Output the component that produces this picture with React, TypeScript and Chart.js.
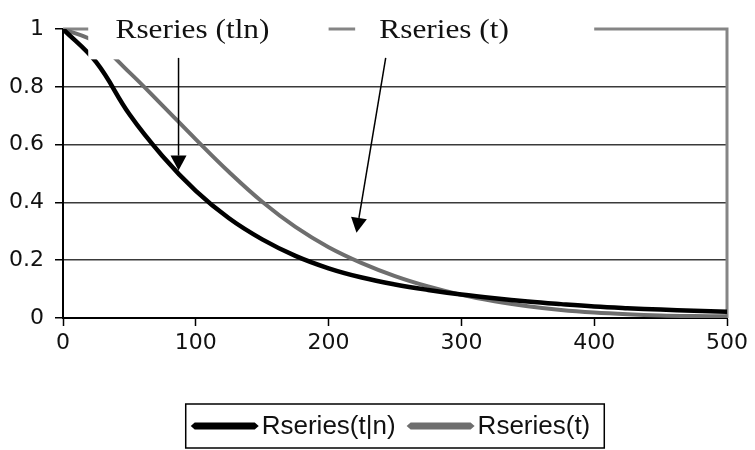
import React, { useEffect, useRef } from "react";
import { Chart, registerables } from "chart.js";

Chart.register(...registerables);

// ---- data ----
const xValues = [0, 25, 50, 75, 100, 125, 150, 175, 200, 225, 250, 275, 300, 325, 350, 375, 400, 425, 450, 475, 500];
const seriesTN = [1, 0.885, 0.705, 0.56, 0.44, 0.345, 0.272, 0.215, 0.172, 0.14, 0.116, 0.097, 0.081, 0.068, 0.057, 0.048, 0.04, 0.034, 0.029, 0.025, 0.022];
const seriesT = [1, 0.953, 0.85, 0.735, 0.618, 0.505, 0.402, 0.315, 0.245, 0.19, 0.145, 0.109, 0.08, 0.058, 0.041, 0.028, 0.019, 0.013, 0.009, 0.007, 0.006];
const seriesLabels = ["Rseries(t|n)", "Rseries(t)"];
const seriesColors = ["#000000", "#6e6e6e"];
const xTicks = [0, 100, 200, 300, 400, 500];
const yTickLabels = ["0", "0.2", "0.4", "0.6", "0.8", "1"];

// ---- annotations (data units) ----
const noteTexts = ["Rseries (tln)", "Rseries (t)"];
const noteCenterX = [97.5, 287];
const noteBaselineY = 0.969;
const noteBoxX = [[19, 200], [220, 400]];
const noteBoxBottomY = 0.895;
const arrowFrom = [[87, 0.9], [243, 0.9]];
const arrowTo = [[87, 0.51], [221, 0.295]];

const annotPlugin = {
  id: "annot",
  beforeDatasetsDraw(chart: any) {
    const { ctx, chartArea } = chart;
    ctx.save();
    ctx.strokeStyle = "#858585";
    ctx.lineWidth = 3;
    ctx.beginPath();
    ctx.moveTo(chartArea.left, chartArea.top);
    ctx.lineTo(chartArea.right, chartArea.top);
    ctx.lineTo(chartArea.right, chartArea.bottom);
    ctx.stroke();
    ctx.restore();
  },
  afterDatasetsDraw(chart: any) {
    const { ctx } = chart;
    const xs = chart.scales.x;
    const ys = chart.scales.y;
    ctx.save();
    ctx.fillStyle = "#ffffff";
    noteBoxX.forEach(([a, b]) => {
      const x0 = xs.getPixelForValue(a);
      const x1 = xs.getPixelForValue(b);
      const yb = ys.getPixelForValue(noteBoxBottomY);
      ctx.fillRect(x0, 0, x1 - x0, yb);
    });
    ctx.fillStyle = "#111";
    ctx.font = "27px 'Liberation Serif', 'Times New Roman', serif";
    ctx.textAlign = "center";
    ctx.textBaseline = "alphabetic";
    noteTexts.forEach((t, i) => {
      ctx.save();
      ctx.translate(xs.getPixelForValue(noteCenterX[i]), ys.getPixelForValue(noteBaselineY));
      ctx.scale(1.16, 1);
      ctx.fillText(t, 0, 0);
      ctx.restore();
    });
    ctx.strokeStyle = "#000";
    ctx.fillStyle = "#000";
    ctx.lineWidth = 1.5;
    arrowFrom.forEach((f, i) => {
      const x0 = xs.getPixelForValue(f[0]);
      const y0 = ys.getPixelForValue(f[1]);
      const x1 = xs.getPixelForValue(arrowTo[i][0]);
      const y1 = ys.getPixelForValue(arrowTo[i][1]);
      const ang = Math.atan2(y1 - y0, x1 - x0);
      const len = 15;
      const half = 8;
      const bx = x1 - len * Math.cos(ang);
      const by = y1 - len * Math.sin(ang);
      ctx.beginPath();
      ctx.moveTo(x0, y0);
      ctx.lineTo(bx, by);
      ctx.stroke();
      ctx.beginPath();
      ctx.moveTo(x1, y1);
      ctx.lineTo(bx + half * Math.sin(ang), by - half * Math.cos(ang));
      ctx.lineTo(bx - half * Math.sin(ang), by + half * Math.cos(ang));
      ctx.closePath();
      ctx.fill();
    });
    ctx.restore();
  },
  afterDraw(chart: any) {
    const { ctx, chartArea } = chart;
    const datasets = chart.data.datasets;
    ctx.save();
    ctx.font = "26px 'Liberation Sans', Arial, sans-serif";
    const lineLen = 68;
    const gapText = 3;
    const gapItem = 11;
    const widths = datasets.map((d: any) => ctx.measureText(d.label).width);
    const content = widths.reduce((s: number, w: number) => s + lineLen + gapText + w, 0) + gapItem * (datasets.length - 1);
    const padL = 5;
    const padR = 14;
    const boxW = content + padL + padR;
    const boxH = 44;
    const cx = (chartArea.left + chartArea.right) / 2;
    const left = cx - boxW / 2;
    const top = chartArea.bottom + 86;
    ctx.strokeStyle = "#000";
    ctx.lineWidth = 1.5;
    ctx.strokeRect(left, top, boxW, boxH);
    let x = left + padL;
    const my = top + boxH / 2;
    datasets.forEach((d: any, i: number) => {
      ctx.fillStyle = d.borderColor;
      ctx.beginPath();
      ctx.moveTo(x, my);
      ctx.lineTo(x + 4, my - 3.5);
      ctx.lineTo(x + lineLen - 4, my - 3.5);
      ctx.lineTo(x + lineLen, my);
      ctx.lineTo(x + lineLen - 4, my + 3.5);
      ctx.lineTo(x + 4, my + 3.5);
      ctx.closePath();
      ctx.fill();
      x += lineLen + gapText;
      ctx.fillStyle = "#111";
      ctx.textAlign = "left";
      ctx.textBaseline = "middle";
      ctx.fillText(d.label, x, my + 1);
      x += widths[i] + gapItem;
    });
    ctx.restore();
  },
};

export default function App() {
  const canvasRef = useRef<HTMLCanvasElement | null>(null);

  useEffect(() => {
    if (!canvasRef.current) return;
    const makePts = (ys: number[]) => xValues.map((x, i) => ({ x, y: ys[i] }));
    const chart = new Chart(canvasRef.current, {
      type: "line",
      data: {
        datasets: [
          {
            label: seriesLabels[0],
            data: makePts(seriesTN),
            borderColor: seriesColors[0],
            backgroundColor: seriesColors[0],
            borderWidth: 4.5,
            pointRadius: 0,
            tension: 0.4,
          },
          {
            label: seriesLabels[1],
            data: makePts(seriesT),
            borderColor: seriesColors[1],
            backgroundColor: seriesColors[1],
            borderWidth: 4,
            pointRadius: 0,
            tension: 0.4,
          },
        ],
      },
      options: {
        responsive: false,
        animation: false,
        layout: { padding: { top: 29, right: 28, bottom: 92, left: 0 } },
        plugins: { legend: { display: false }, tooltip: { enabled: false } },
        scales: {
          x: {
            type: "linear",
            min: 0,
            max: 500,
            afterBuildTicks: (scale: any) => {
              scale.ticks = xTicks.map((v) => ({ value: v }));
            },
            afterFit: (scale: any) => {
              scale.height = 40;
            },
            ticks: {
              color: "#111",
              font: { family: "'DejaVu Sans', sans-serif", size: 22 },
              padding: 4,
              maxRotation: 0,
            },
            grid: {
              drawOnChartArea: false,
              drawTicks: true,
              tickLength: 8,
              tickColor: "#000",
              tickWidth: 1.5,
            },
            border: { display: true, color: "#000", width: 2 },
          },
          y: {
            min: 0,
            max: 1,
            afterBuildTicks: (scale: any) => {
              scale.ticks = yTickLabels.map((t) => ({ value: parseFloat(t) }));
            },
            afterFit: (scale: any) => {
              scale.width = 63;
            },
            ticks: {
              color: "#111",
              font: { family: "'DejaVu Sans', sans-serif", size: 22 },
              padding: 11,
              callback: (_v: any, i: number) => yTickLabels[i],
            },
            grid: {
              color: (c: any) => (c.tick && (c.tick.value === 1 || c.tick.value === 0) ? "rgba(0,0,0,0)" : "#3a3a3a"),
              lineWidth: 1.5,
              drawTicks: true,
              tickLength: 8,
              tickColor: "#000",
              tickWidth: 1.5,
            },
            border: { display: true, color: "#000", width: 2 },
          },
        },
      } as any,
      plugins: [annotPlugin],
    });
    return () => chart.destroy();
  }, []);

  return (
    <div style={{ position: "absolute", left: 0, top: 0, width: 755, height: 450, background: "#fff" }}>
      <canvas ref={canvasRef} width={755} height={450} style={{ display: "block" }} />
    </div>
  );
}
